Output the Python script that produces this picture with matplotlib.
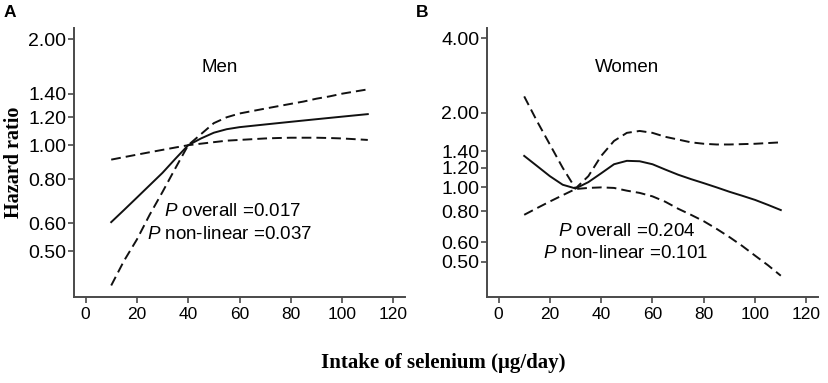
import matplotlib
matplotlib.use("Agg")
import matplotlib.pyplot as plt
from matplotlib.ticker import FixedLocator, FormatStrFormatter, NullLocator

plt.rcParams["font.family"] = ["Liberation Sans", "DejaVu Sans"]
plt.rcParams["mathtext.fontset"] = "custom"
plt.rcParams["mathtext.rm"] = "Liberation Sans"
plt.rcParams["mathtext.it"] = "Liberation Sans:italic"

# selenium intake (ug/day)
intake = [10, 15, 20, 25, 30, 35, 40, 45, 50, 55, 60, 65, 70, 75, 80, 85, 90, 95, 100, 105, 110]

# Men: hazard ratio and 95% CI bands
men_hr = [0.605, 0.655, 0.71, 0.77, 0.835, 0.915, 1.0, 1.045, 1.085, 1.11, 1.125,
          1.135, 1.145, 1.155, 1.165, 1.175, 1.185, 1.195, 1.205, 1.215, 1.225]
men_steep = [0.40, 0.47, 0.54, 0.635, 0.737, 0.86, 1.0, 1.075, 1.155, 1.20, 1.23,
             1.25, 1.27, 1.29, 1.31, 1.33, 1.355, 1.375, 1.40, 1.42, 1.44]
men_flat = [0.91, 0.925, 0.94, 0.955, 0.97, 0.985, 1.0, 1.01, 1.02, 1.03, 1.035,
            1.04, 1.045, 1.048, 1.05, 1.05, 1.05, 1.048, 1.045, 1.04, 1.035]

# Women: hazard ratio and 95% CI bands
women_hr = [1.34, 1.22, 1.11, 1.025, 0.99, 1.05, 1.14, 1.24, 1.28, 1.275, 1.24,
            1.18, 1.125, 1.08, 1.04, 1.0, 0.96, 0.925, 0.89, 0.85, 0.81]
women_up = [2.33, 1.85, 1.49, 1.20, 0.99, 1.11, 1.34, 1.54, 1.66, 1.69, 1.66,
            1.60, 1.56, 1.52, 1.50, 1.49, 1.49, 1.495, 1.50, 1.51, 1.52]
women_low = [0.775, 0.825, 0.877, 0.93, 0.985, 0.995, 1.0, 0.995, 0.97, 0.95, 0.92,
             0.875, 0.82, 0.775, 0.73, 0.68, 0.63, 0.58, 0.53, 0.485, 0.44]

men_ticks = [0.5, 0.6, 0.8, 1.0, 1.2, 1.4, 2.0]
women_ticks = [0.5, 0.6, 0.8, 1.0, 1.2, 1.4, 2.0, 4.0]
x_ticks = [0, 20, 40, 60, 80, 100, 120]

W, H = 829, 383
fig = plt.figure(figsize=(W / 100, H / 100), dpi=100)
ax_a = fig.add_axes([74 / W, 1 - 297 / H, 331 / W, 269 / H])
ax_b = fig.add_axes([487 / W, 1 - 297 / H, 331 / W, 269 / H])

line_col = "#111111"
axis_col = "#4a4a4a"


def style_axis(ax, yticks, ylim):
    ax.set_yscale("log")
    ax.set_ylim(*ylim)
    ax.set_xlim(-4.5, 124.5)
    ax.yaxis.set_major_locator(FixedLocator(yticks))
    ax.yaxis.set_major_formatter(FormatStrFormatter("%.2f"))
    ax.yaxis.set_minor_locator(NullLocator())
    ax.set_xticks(x_ticks)
    ax.spines["top"].set_visible(False)
    ax.spines["right"].set_visible(False)
    for s in ("left", "bottom"):
        ax.spines[s].set_linewidth(1.4)
        ax.spines[s].set_color(axis_col)
    ax.tick_params(axis="y", labelsize=14, length=4, width=1.2, color=axis_col, pad=1.5)
    ax.tick_params(axis="x", labelsize=12.5, length=4, width=1.2, color=axis_col, pad=3)


def draw(ax, hr, band1, band2):
    ax.plot(intake, hr, color=line_col, lw=1.4)
    for b in (band1, band2):
        (ln,) = ax.plot(intake, b, color=line_col, lw=1.4)
        ln.set_dashes((5, 2.6))


draw(ax_a, men_hr, men_steep, men_flat)
draw(ax_b, women_hr, women_up, women_low)
style_axis(ax_a, men_ticks, (0.371, 2.15))
style_axis(ax_b, women_ticks, (0.361, 4.4))

ax_a.set_ylabel("Hazard ratio", family=["Liberation Serif"], fontweight="bold",
                fontsize=14.5, labelpad=3)

fig.text(220 / W, 1 - 68 / H, "Men", fontsize=13.5, ha="center", va="center")
fig.text(233 / W, 1 - 212 / H, "$P$ overall =0.017", fontsize=13.5, ha="center", va="center")
fig.text(230 / W, 1 - 234 / H, "$P$ non-linear =0.037", fontsize=13.5, ha="center", va="center")

fig.text(627 / W, 1 - 67 / H, "Women", fontsize=13.5, ha="center", va="center")
fig.text(627 / W, 1 - 232 / H, "$P$ overall =0.204", fontsize=13.5, ha="center", va="center")
fig.text(626 / W, 1 - 253 / H, "$P$ non-linear =0.101", fontsize=13.5, ha="center", va="center")

fig.text(10 / W, 1 - 12.5 / H, "A", fontsize=12.5, fontweight="bold", ha="center", va="center")
fig.text(422 / W, 1 - 12.5 / H, "B", fontsize=12.5, fontweight="bold", ha="center", va="center")

fig.text(443 / W, 1 - 363 / H, "Intake of selenium (μg/day)", family=["Liberation Serif"],
         fontweight="bold", fontsize=15, ha="center", va="center")

fig.savefig("out.png", dpi=100)
